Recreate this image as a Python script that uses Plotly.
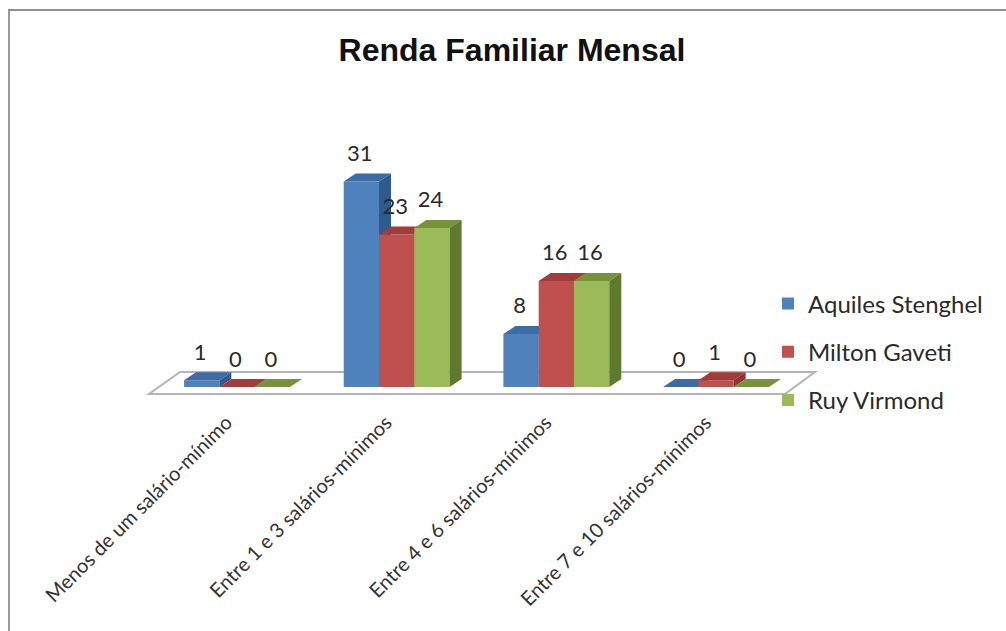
import plotly.graph_objects as go

categories = ["Menos de um salário-mínimo", "Entre 1 e 3 salários-mínimos",
              "Entre 4 e 6 salários-mínimos", "Entre 7 e 10 salários-mínimos"]
aquiles = [1, 31, 8, 0]
milton = [0, 23, 16, 1]
ruy = [0, 24, 16, 0]
series_names = ["Aquiles Stenghel", "Milton Gaveti", "Ruy Virmond"]
title_text = "Renda Familiar Mensal"

W, H = 1006, 631
base_px = 387
bottom_px = 400
unit_y = 6.63
unit_x = 159.67
center0 = 237
xr = [-center0 / unit_x, (W - center0) / unit_x]
yr = [-(bottom_px - base_px) / unit_y, base_px / unit_y]
bar_w = 35.3 / unit_x
dx = 12 / unit_x
dy = 8 / unit_y
label_up = 26 / unit_y
label_left = 1.5 / unit_x
tick_shift = 10.5 / unit_x

styles = [("#4f81bd", "#3d6ba3", "#2f5a8c"),
          ("#c0504d", "#a23b39", "#8f3432"),
          ("#9bbb59", "#76933c", "#5f7a30")]
values = [aquiles, milton, ruy]
xpos = list(range(len(categories)))

fig = go.Figure()
for i, (vals, name, (front, top, side)) in enumerate(zip(values, series_names, styles)):
    suffix = "" if i == 0 else str(i + 1)
    xa, ya = "x" + suffix, "y" + suffix
    off = (i - 1.5) * bar_w
    fig.add_trace(go.Bar(x=xpos, y=vals, name=name, width=bar_w, offset=off,
                         marker=dict(color=front, line=dict(width=0)),
                         legendgroup=name, xaxis=xa, yaxis=ya))
    tx, ty, sx, sy = [], [], [], []
    for k, v in zip(xpos, vals):
        l, r = k + off, k + off + bar_w
        tx += [l, r, r + dx, l + dx, l, None]
        ty += [v, v, v + dy, v + dy, v, None]
        if v > 0:
            sx += [r, r + dx, r + dx, r, r, None]
            sy += [0, dy, v + dy, v, 0, None]
    fig.add_trace(go.Scatter(x=tx, y=ty, mode="lines", fill="toself", fillcolor=top,
                             line=dict(width=0, color=top), hoverinfo="skip",
                             showlegend=False, xaxis=xa, yaxis=ya))
    fig.add_trace(go.Scatter(x=sx, y=sy, mode="lines", fill="toself", fillcolor=side,
                             line=dict(width=0, color=side), hoverinfo="skip",
                             showlegend=False, xaxis=xa, yaxis=ya))
    fig.add_trace(go.Scatter(x=[k + off + bar_w / 2 - label_left for k in xpos],
                             y=[v + label_up for v in vals],
                             text=[str(v) for v in vals], mode="text",
                             textposition="middle center",
                             textfont=dict(family="Lato", size=22, color="#2a2a2a"),
                             hoverinfo="skip", showlegend=False, xaxis=xa, yaxis=ya))

dom = [(H - bottom_px) / H, 1]
hidden = dict(visible=False, showgrid=False, zeroline=False)
layout = dict(
    width=W, height=H, template=None, autosize=False,
    margin=dict(l=0, r=0, t=0, b=0), paper_bgcolor="#ffffff", plot_bgcolor="rgba(0,0,0,0)",
    showlegend=True, barmode="overlay",
    title=dict(text=f"<b>{title_text}</b>", x=512 / W, y=1 - 50 / H, xanchor="center",
               yanchor="middle", xref="paper", yref="paper",
               font=dict(family="Liberation Sans", size=32, color="#111111")),
    legend=dict(x=768 / W, y=1 - 281.5 / H, xanchor="left", yanchor="top",
                bgcolor="rgba(0,0,0,0)", tracegroupgap=14, itemclick=False,
                font=dict(family="Lato", size=24, color="#2a2a2a")),
    xaxis=dict(range=xr, tickmode="array", tickvals=[k - tick_shift for k in xpos],
               ticktext=categories, tickangle=-45,
               showgrid=False, zeroline=False, showline=False, ticks="outside", ticklen=2,
               tickcolor="rgba(0,0,0,0)", tickfont=dict(family="Lato", size=20, color="#333333")),
    yaxis=dict(range=yr, domain=dom, **hidden),
    shapes=[
        dict(type="path", xref="paper", yref="paper", layer="below",
             path=" ".join([f"M{149/W},{1-394/H}", f"L{785/W},{1-394/H}",
                            f"L{815/W},{1-372/H}", f"L{180/W},{1-372/H}", "Z"]),
             fillcolor="#ffffff", line=dict(color="#b4b4b4", width=2)),
        dict(type="line", xref="paper", yref="paper", x0=9/W, x1=9/W, y0=0, y1=1-10/H,
             line=dict(color="#9a9a9a", width=2)),
        dict(type="line", xref="paper", yref="paper", x0=8/W, x1=1, y0=1-10/H, y1=1-10/H,
             line=dict(color="#8f8f8f", width=2)),
    ],
)
for i in (2, 3):
    layout[f"xaxis{i}"] = dict(range=xr, overlaying="x", **hidden)
    layout[f"yaxis{i}"] = dict(range=yr, domain=dom, overlaying="y", **hidden)
fig.update_layout(**layout)
fig.write_html("out.html", config=dict(displayModeBar=False),
               post_script="document.body.style.margin='0';")
